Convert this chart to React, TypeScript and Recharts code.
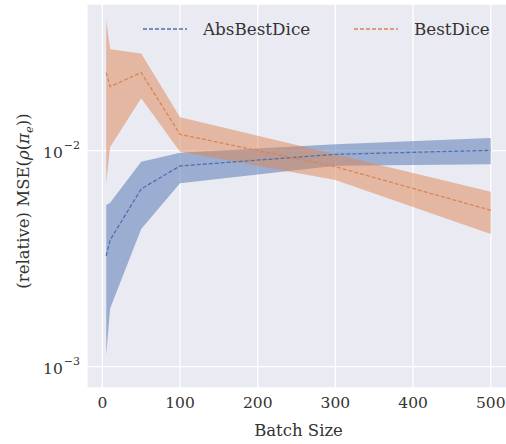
import { ComposedChart, Area, Line, XAxis, YAxis, CartesianGrid, Label } from 'recharts';

const batchSizes = [5, 10, 50, 100, 300, 500];

const absMean = [0.00326, 0.00386, 0.00665, 0.0085, 0.00962, 0.01004];
const absLow = [0.00113, 0.00186, 0.00434, 0.00707, 0.00852, 0.00865];
const absHigh = [0.00561, 0.00574, 0.00889, 0.00979, 0.01071, 0.01145];

const bestMean = [0.023, 0.0198, 0.023, 0.0119, 0.00843, 0.0053];
const bestLow = [0.00709, 0.0104, 0.01748, 0.0099, 0.00732, 0.00412];
const bestHigh = [0.0403, 0.0295, 0.0282, 0.01428, 0.00962, 0.00646];

const xTicks = [0, 100, 200, 300, 400, 500];
const yTicks = [0.001, 0.01];
const yTickExp = ['−3', '−2'];

const BLUE = '#4C72B0';
const ORANGE = '#DD8452';
const FONT = '"DejaVu Serif", serif';
const TEXT = '#333333';

const data = batchSizes.map((x, i) => ({
  x,
  absMean: absMean[i],
  absRange: [absLow[i], absHigh[i]],
  bestMean: bestMean[i],
  bestRange: [bestLow[i], bestHigh[i]],
}));

const YTick = (props: any) => {
  const { y, payload } = props;
  const idx = yTicks.indexOf(payload.value);
  return (
    <text x={80} y={y + 7} textAnchor="end" fontFamily={FONT} fontSize={15.5} fill={TEXT}>
      10
      <tspan dx={1} dy={-9} fontSize={11}>
        {yTickExp[idx]}
      </tspan>
    </text>
  );
};

const YLabel = () => (
  <text
    transform="translate(29, 201) rotate(-90)"
    textAnchor="middle"
    fontFamily={FONT}
    fontSize={16.5}
    fill={TEXT}
  >
    (relative) MSE(<tspan fontStyle="italic">ρ</tspan>(<tspan fontStyle="italic">π</tspan>
    <tspan fontSize={11.5} dy={4} fontStyle="italic">e</tspan>
    <tspan dy={-4}>))</tspan>
  </text>
);

const LegendItem = ({ color, label, left }: { color: string; label: string; left: number }) => (
  <div style={{ position: 'absolute', left, top: 19, display: 'flex', alignItems: 'center' }}>
    <svg width={46} height={10}>
      <line x1={1} y1={5} x2={45} y2={5} stroke={color} strokeWidth={1.3} strokeDasharray="4 2" />
    </svg>
    <span style={{ marginLeft: 15, fontFamily: FONT, fontSize: 16.8, color: TEXT }}>{label}</span>
  </div>
);

export default function App() {
  return (
    <div
      style={{
        position: 'absolute',
        left: 0,
        top: 0,
        width: 506,
        height: 444,
        overflow: 'hidden',
        background: '#ffffff',
      }}
    >
      <ComposedChart width={510} height={444} data={data} margin={{ top: 4, right: 0, bottom: 0, left: 0 }}>
        <CartesianGrid stroke="#ffffff" strokeWidth={1.3} fill="#EAEAF2" />
        <XAxis
          dataKey="x"
          type="number"
          domain={[-19.75, 524.75]}
          ticks={xTicks}
          height={56}
          tickLine={false}
          axisLine={false}
          tickMargin={3}
          tick={{ fontFamily: FONT, fontSize: 15.5, fill: TEXT }}
        >
          <Label
            value="Batch Size"
            position="bottom"
            offset={-20}
            style={{ fontFamily: FONT, fontSize: 16.5, fill: TEXT }}
          />
        </XAxis>
        <YAxis
          type="number"
          scale="log"
          domain={[0.000797, 0.04776]}
          allowDataOverflow
          ticks={yTicks}
          width={87}
          tickLine={false}
          axisLine={false}
          tick={<YTick />}
          label={<YLabel />}
        />
        <Area
          type="linear"
          dataKey="absRange"
          stroke="none"
          fill={BLUE}
          fillOpacity={0.5}
          isAnimationActive={false}
        />
        <Area
          type="linear"
          dataKey="bestRange"
          stroke="none"
          fill={ORANGE}
          fillOpacity={0.5}
          isAnimationActive={false}
        />
        <Line
          type="linear"
          dataKey="absMean"
          stroke={BLUE}
          strokeWidth={1.3}
          strokeDasharray="4 2"
          dot={false}
          isAnimationActive={false}
        />
        <Line
          type="linear"
          dataKey="bestMean"
          stroke={ORANGE}
          strokeWidth={1.3}
          strokeDasharray="4 2"
          dot={false}
          isAnimationActive={false}
        />
      </ComposedChart>
      <LegendItem color={BLUE} label="AbsBestDice" left={142} />
      <LegendItem color={ORANGE} label="BestDice" left={353} />
    </div>
  );
}
